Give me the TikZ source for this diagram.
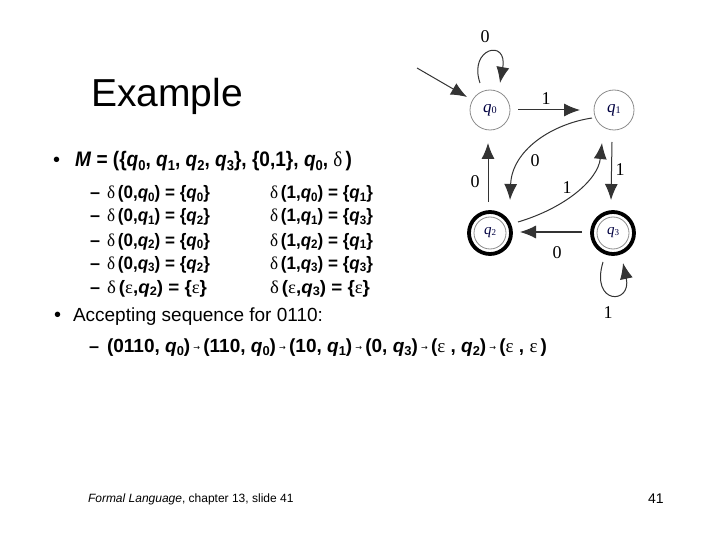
\documentclass[tikz,border=0pt]{standalone}
\usepackage{fontspec}
\usepackage{graphicx}
\setmainfont{Liberation Sans}
\newfontfamily\serifd{Liberation Serif}
\newfontfamily\symf{DejaVu Sans}
\usetikzlibrary{calc,arrows.meta}
\newcommand\dl{{\serifd\mdseries δ}}
\newcommand\ep{{\serifd\mdseries ε}}
\newcommand\qs[1]{\textit{q}\raisebox{-0.3ex}{\scalebox{0.68}{#1}}}
\newcommand\sq{\,\raisebox{0.15ex}{\symf\mdseries\fontsize{8}{8}\selectfont →}\,}
\newcommand\dq[1]{{\itshape q}\raisebox{-0.15ex}{\scalebox{0.6}{#1}}}
\newcommand\fitw[2]{\resizebox{#1}{\height}{#2}}
\tikzset{
  txt/.style={anchor=base west,inner sep=0pt,outer sep=0pt},
  rowf/.style={txt,font=\bfseries\fontsize{18}{18}\selectfont},
  st/.style={circle,draw=black!45,line width=0.8pt,minimum size=40pt,inner sep=0pt,font=\serifd\fontsize{17}{17}\selectfont,text=blue!25!black},
  acc/.style={circle,draw=black!45,line width=0.8pt,minimum size=32pt,inner sep=0pt,font=\serifd\fontsize{15}{15}\selectfont,text=blue!25!black},
  ring/.style={draw=black,line width=3.8pt},
  arr/.style={draw=black!80,line width=1pt,-{Latex[length=16pt,width=13pt]}},
  lab/.style={font=\serifd\fontsize{18}{18}\selectfont,inner sep=0pt}
}
\begin{document}
\begin{tikzpicture}[x=1pt,y=-1pt]
\useasboundingbox (0,0) rectangle (720,540);
% title
\node[txt,font=\fontsize{39}{39}\selectfont] (title) at (91,107) {Example};
% bullet 1
\node[txt,font=\fontsize{20}{20}\selectfont] (b1) at (53,167) {•};
\node[txt,font=\bfseries\fontsize{21}{21}\selectfont] (mline) at (75,167) {\fitw{277pt}{\textit{M} = (\{\qs{0}, \qs{1}, \qs{2}, \qs{3}\}, \{0,1\}, \qs{0}, \dl\,)}};
% rows
\node[rowf] (d1) at (90,199) {–};
\node[rowf] (l1) at (107,199) {\fitw{103pt}{\dl\,(0,\qs{0}) = \{\qs{0}\}}};
\node[rowf] (r1) at (270,199) {\fitw{103pt}{\dl\,(1,\qs{0}) = \{\qs{1}\}}};
\node[rowf] (d2) at (90,222) {–};
\node[rowf] (l2) at (107,222) {\fitw{103pt}{\dl\,(0,\qs{1}) = \{\qs{2}\}}};
\node[rowf] (r2) at (270,222) {\fitw{103pt}{\dl\,(1,\qs{1}) = \{\qs{3}\}}};
\node[rowf] (d3) at (90,246) {–};
\node[rowf] (l3) at (107,246) {\fitw{103pt}{\dl\,(0,\qs{2}) = \{\qs{0}\}}};
\node[rowf] (r3) at (270,246) {\fitw{103pt}{\dl\,(1,\qs{2}) = \{\qs{1}\}}};
\node[rowf] (d4) at (90,269) {–};
\node[rowf] (l4) at (107,269) {\fitw{103pt}{\dl\,(0,\qs{3}) = \{\qs{2}\}}};
\node[rowf] (r4) at (270,269) {\fitw{103pt}{\dl\,(1,\qs{3}) = \{\qs{3}\}}};
\node[rowf] (d5) at (90,293) {–};
\node[rowf] (l5) at (107,293) {\fitw{100pt}{\dl\,(\ep,\qs{2}) = \{\ep\}}};
\node[rowf] (r5) at (270,293) {\fitw{100pt}{\dl\,(\ep,\qs{3}) = \{\ep\}}};
% bullet 2
\node[txt,font=\fontsize{20}{20}\selectfont] (b2) at (54,321) {•};
\node[txt,font=\fontsize{19}{19}\selectfont] (acc) at (73,321) {Accepting sequence for 0110:};
\node[rowf] (d6) at (89,352) {–};
\node[txt,font=\bfseries\fontsize{19}{19}\selectfont] (seq) at (107,352) {\fitw{440pt}{(0110, \qs{0})\sq(110, \qs{0})\sq(10, \qs{1})\sq(0, \qs{3})\sq(\ep\ , \qs{2})\sq(\ep\ , \ep\,)}};
% footer
\node[txt,font=\fontsize{12}{12}\selectfont] (foot) at (88,502) {\textit{Formal Language}, chapter 13, slide 41};
\node[txt,font=\fontsize{14}{14}\selectfont] (pg) at (648,503) {41};
% automaton
\node[st] (q0) at (490,110) {\dq{0}};
\node[st] (q1) at (614,110) {\dq{1}};
\node[acc] (q2) at (490,233) {\dq{2}};
\node[acc] (q3) at (613,233) {\dq{3}};
\draw[ring] (q2.center) circle[radius=21];
\draw[ring] (q3.center) circle[radius=21];
\coordinate (s) at (417,68);
\draw[arr] (s) -- ($(q0)+(-23,-13)$);
\draw[arr] ($(q0)+(-10,-27)$) .. controls ($(q0)+(-22,-62)$) and ($(q0)+(18,-72)$) .. ($(q0)+(10,-27)$);
\node[lab] (e0) at (485,37) {0};
\draw[arr] ($(q0)+(28,0)$) -- ($(q1)+(-34,0)$);
\node[lab] (e1) at (546,99) {1};
\draw[arr] ($(q2)+(-2,-31)$) -- ($(q0)+(-2,33)$);
\node[lab] (e2) at (475,182) {0};
\draw[arr] ($(q1)+(-2,32)$) -- ($(q3)+(-2,-33)$);
\node[lab] (e3) at (620,170) {1};
\draw[arr] ($(q3)+(-31,-1)$) -- ($(q2)+(30,-1)$);
\node[lab] (e4) at (557,253) {0};
\draw[arr] ($(q1)+(-22,8)$) .. controls (552,124) and (512,150) .. ($(q2)+(20,-33)$);
\node[lab] (e5) at (535,161) {0};
\draw[arr] ($(q2)+(28,-11)$) .. controls (565,208) and (598,180) .. ($(q1)+(-12,33)$);
\node[lab] (e6) at (567,188) {1};
\draw[arr] ($(q3)+(-10,29)$) .. controls (590,305) and (632,305) .. ($(q3)+(10,30)$);
\node[lab] (e7) at (608,313) {1};
\end{tikzpicture}
\end{document}
